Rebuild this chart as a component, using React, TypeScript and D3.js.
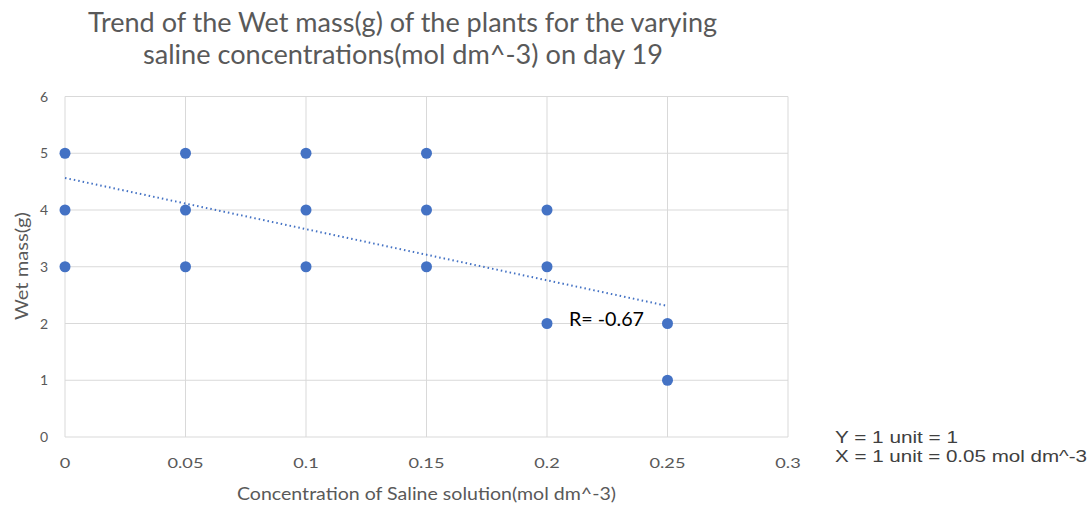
import React from "react";
import * as d3 from "d3";

const concentrations = [0, 0, 0, 0.05, 0.05, 0.05, 0.1, 0.1, 0.1, 0.15, 0.15, 0.15, 0.2, 0.2, 0.2, 0.25, 0.25];
const wetMass = [5, 4, 3, 5, 4, 3, 5, 4, 3, 5, 4, 3, 4, 3, 2, 2, 1];
const xTicks = [0, 0.05, 0.1, 0.15, 0.2, 0.25, 0.3];
const xTickLabels = ["0", "0.05", "0.1", "0.15", "0.2", "0.25", "0.3"];
const yTicks = [0, 1, 2, 3, 4, 5, 6];
const trendX = [0, 0.25];
const trendY = [4.565, 2.31];

export default function App() {
  const W = 1091, H = 506;
  const x = d3.scaleLinear().domain([0, 0.3]).range([65, 788]);
  const y = d3.scaleLinear().domain([0, 6]).range([437, 96.5]);
  const line = d3.line<number>().x((d, i) => x(trendX[i])).y((d) => y(d));
  const font = "Lato, 'Open Sans', sans-serif";
  const sa = "spacingAndGlyphs";
  return (
    <svg width={W} height={H} style={{ position: "absolute", left: 0, top: 0, background: "#fff" }}>
      <rect width={W} height={H} fill="#fff" />
      <text x={88} y={32} textLength={629} lengthAdjust={sa} fontFamily={font} fontSize={26} fill="#595959">
        Trend of the Wet mass(g) of the plants for the varying
      </text>
      <text x={143} y={64} textLength={520} lengthAdjust={sa} fontFamily={font} fontSize={26} fill="#595959">
        saline concentrations(mol dm^-3) on day 19
      </text>
      {yTicks.map((t) => (
        <g key={"y" + t}>
          <line x1={x(0)} x2={x(0.3)} y1={y(t)} y2={y(t)} stroke="#d9d9d9" strokeWidth={1} />
          <text x={48} y={y(t) + 5} textAnchor="end" fontFamily={font} fontSize={14} fill="#595959">{t}</text>
        </g>
      ))}
      {xTicks.map((t, i) => (
        <g key={"x" + i}>
          <line x1={x(t)} x2={x(t)} y1={y(0)} y2={y(6)} stroke="#d9d9d9" strokeWidth={1} />
          <text x={x(t)} y={468} textAnchor="middle" fontFamily={font} fontSize={14} fill="#595959"
            transform={`translate(${x(t)},0) scale(1.3,1) translate(${-x(t)},0)`}>{xTickLabels[i]}</text>
        </g>
      ))}
      <path d={line(trendY) || ""} fill="none" stroke="#4472C4" strokeWidth={2} strokeDasharray="1.5,3" />
      {concentrations.map((c, i) => (
        <circle key={"p" + i} cx={x(c)} cy={y(wetMass[i])} r={5.5} fill="#4472C4" />
      ))}
      <text x={569} y={326} textLength={75} lengthAdjust={sa} fontFamily={font} fontSize={19} fill="#000">R= -0.67</text>
      <text x={237} y={500} textLength={379} lengthAdjust={sa} fontFamily={font} fontSize={18} fill="#595959">
        Concentration of Saline solution(mol dm^-3)
      </text>
      <text transform={`translate(28,${320}) rotate(-90)`} textLength={108} lengthAdjust={sa} fontFamily={font} fontSize={17} fill="#595959">
        Wet mass(g)
      </text>
      <text x={835} y={443} textLength={123} lengthAdjust={sa} fontFamily="'Liberation Sans', Arial, sans-serif" fontSize={16} fill="#404040">Y = 1 unit = 1</text>
      <text x={835} y={462} textLength={252} lengthAdjust={sa} fontFamily="'Liberation Sans', Arial, sans-serif" fontSize={16} fill="#404040">X = 1 unit = 0.05 mol dm^-3</text>
    </svg>
  );
}
